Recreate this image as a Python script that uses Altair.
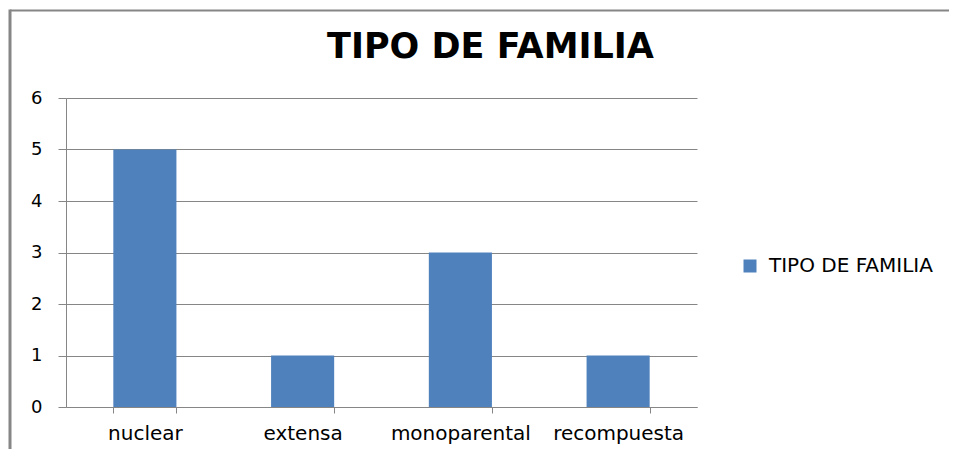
import altair as alt
import pandas as pd

categories = ["nuclear", "extensa", "monoparental", "recompuesta"]
values = [5, 1, 3, 1]
series_name = "TIPO DE FAMILIA"
y_ticks = [0, 1, 2, 3, 4, 5, 6]

df = pd.DataFrame({"tipo": categories, "valor": values, "serie": [series_name] * len(categories)})

FONT = "DejaVu Sans"
GREY = "#868686"

bars = alt.Chart(df).mark_bar(color="#4F81BD").encode(
    x=alt.X("tipo:N", sort=categories, title=None,
            scale=alt.Scale(paddingInner=0.6, paddingOuter=0.3),
            axis=alt.Axis(labelAngle=0, tickBand="extent", tickSize=6, labelPadding=10,
                          labelFont=FONT, labelFontSize=20, labelColor="black",
                          domainColor=GREY, tickColor=GREY, grid=False)),
    y=alt.Y("valor:Q", title=None,
            scale=alt.Scale(domain=[0, 6], nice=False),
            axis=alt.Axis(values=y_ticks, tickSize=8, labelPadding=16,
                          labelFont=FONT, labelFontSize=18, labelColor="black",
                          domainColor=GREY, tickColor=GREY, gridColor=GREY)),
    color=alt.Color("serie:N", scale=alt.Scale(range=["#4F81BD"]),
                    legend=alt.Legend(title=None, orient="none", legendX=674, legendY=158,
                                      symbolType="square", symbolSize=169, symbolStrokeWidth=0,
                                      labelFont=FONT, labelFontSize=20, labelColor="black",
                                      labelOffset=9, labelLimit=400, padding=0)),
)

frame_df = pd.DataFrame({"k": [0]})
top_rule = alt.Chart(frame_df).mark_rule(color=GREY, strokeWidth=2).encode(
    x=alt.value(-56), x2=alt.value(900), y=alt.value(-87.5))
left_rule = alt.Chart(frame_df).mark_rule(color=GREY, strokeWidth=3).encode(
    x=alt.value(-56), y=alt.value(-88.5), y2=alt.value(360))

chart = alt.layer(bars, top_rule, left_rule).properties(
    width=631, height=309,
    title=alt.TitleParams(series_name, font=FONT, fontSize=35, fontWeight="bold",
                          color="black", anchor="middle", dx=109, offset=-92,
                          baseline="bottom"),
    autosize=alt.AutoSizeParams(type="none"),
    padding={"left": 58, "top": 90, "right": 252, "bottom": 42},
    background="white",
).configure_view(stroke=None)

chart.save("out.html", embed_options={"renderer": "svg", "actions": False})
